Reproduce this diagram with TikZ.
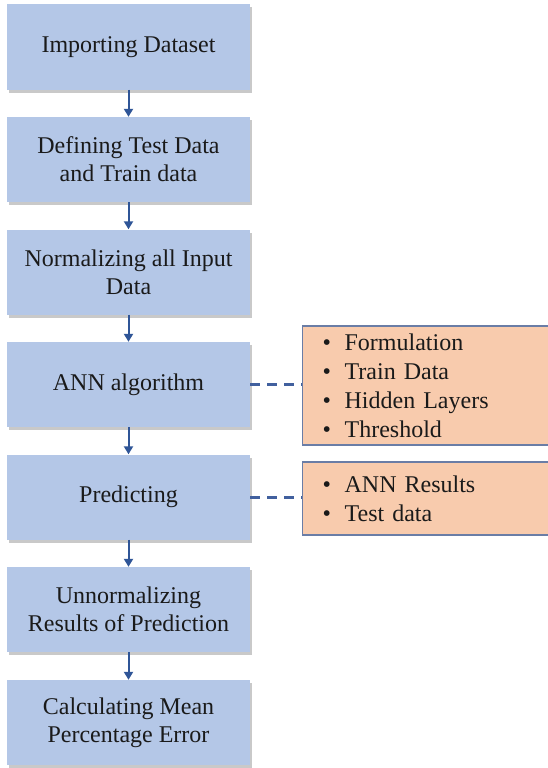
\documentclass[tikz,border=0pt]{standalone}
\usepackage{fontspec}
\setmainfont{Liberation Serif}
\newfontfamily\tms{Liberation Serif}
\usetikzlibrary{arrows.meta,shadows}
\definecolor{boxblue}{HTML}{B4C7E7}
\definecolor{boxorange}{HTML}{F8CBAD}
\definecolor{arrowblue}{HTML}{2F5597}
\definecolor{dashblue}{HTML}{41609E}
\definecolor{oborder}{HTML}{6A7DA6}
\definecolor{txt}{HTML}{1A1A1A}
\tikzset{
  stepbox/.style={rectangle, fill=boxblue, draw=none, minimum width=243pt, minimum height=85pt,
    align=center, text=txt, inner sep=0pt,
    font=\tms\fontsize{24}{28}\selectfont,
    drop shadow={shadow xshift=2pt, shadow yshift=-3pt, opacity=0.35, fill=black!60}},
  infobox/.style={rectangle, fill=boxorange, draw=oborder, line width=1.3pt, minimum width=252pt,
    text width=212pt, align=left, inner xsep=19pt, inner ysep=0pt, text=txt,
    font=\tms\fontsize{24}{29}\selectfont, anchor=west},
  flow/.style={draw=arrowblue, line width=2pt, -{Triangle[width=9pt,length=8pt]}},
  link/.style={draw=dashblue, line width=3pt, dash pattern=on 10pt off 7pt},
}
\newcommand{\bul}[1]{\makebox[22pt][l]{\textbullet}#1}
\begin{document}
\begin{tikzpicture}[x=1pt,y=-1pt]
\useasboundingbox (0,0) rectangle (548,768);
\fill[white] (0,0) rectangle (548,768);
\begin{scope}
\clip (0,0) rectangle (548,768);
\node[stepbox] (b1) at (128.5,47) {Importing Dataset};
\node[stepbox] (b2) at (128.5,159.5) {Defining Test Data\\and Train data};
\node[stepbox] (b3) at (128.5,272) {Normalizing all Input\\Data};
\node[stepbox] (b4) at (128.5,384.5) {ANN algorithm};
\node[stepbox] (b5) at (128.5,497) {Predicting};
\node[stepbox] (b6) at (128.5,609.5) {Unnormalizing\\Results of Prediction};
\node[stepbox] (b7) at (128.5,722.5) {Calculating Mean\\Percentage Error};
\node[infobox, minimum height=119pt] (o1) at (302,385.5)
  {\bul{Formulation}\\\bul{Train Data}\\\bul{Hidden Layers}\\\bul{Threshold}};
\node[infobox, minimum height=73pt] (o2) at (302,498.5)
  {\bul{ANN Results}\\\bul{Test data}};
\draw[flow] (b1.south) -- (b2.north);
\draw[flow] (b2.south) -- (b3.north);
\draw[flow] (b3.south) -- (b4.north);
\draw[flow] (b4.south) -- (b5.north);
\draw[flow] (b5.south) -- (b6.north);
\draw[flow] (b6.south) -- (b7.north);
\draw[link] (b4.east) -- (b4.east -| o1.west);
\draw[link] (b5.east) -- (b5.east -| o2.west);
\end{scope}
\end{tikzpicture}
\end{document}
